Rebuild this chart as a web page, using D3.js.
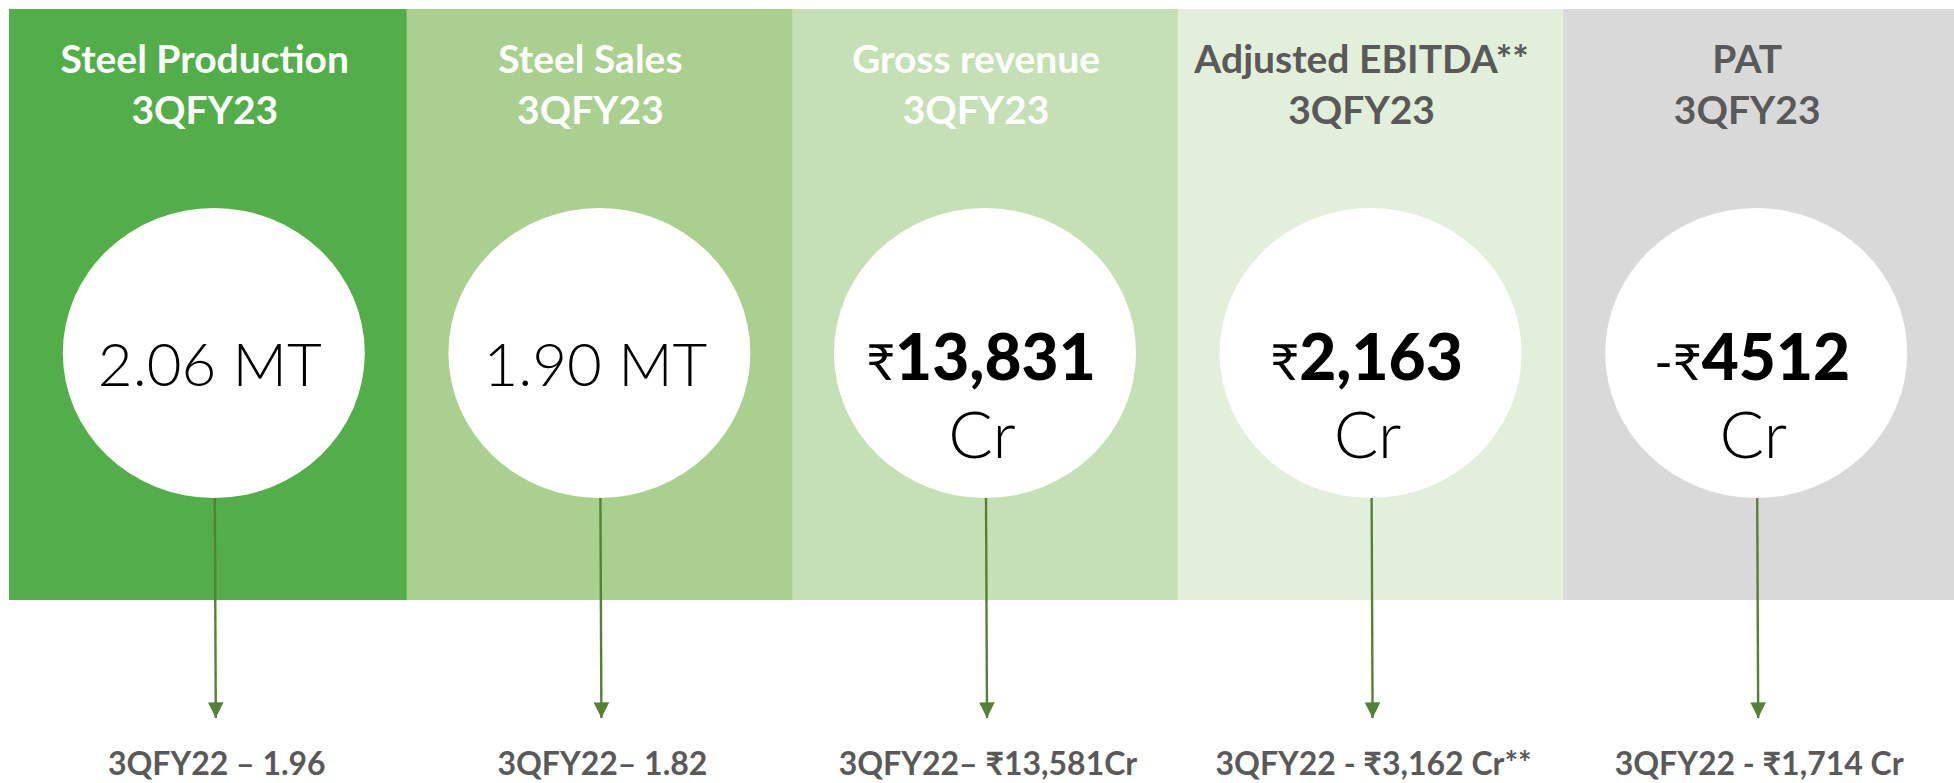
<!DOCTYPE html>
<html>
<head>
<meta charset="utf-8">
<script src="https://cdn.jsdelivr.net/npm/d3@7"></script>
<style>
  body { margin: 0; background: #fff; }
  svg { display: block; }
</style>
</head>
<body>
<div id="chart"></div>
<script>
// headline KPIs, 3QFY23 vs 3QFY22
const metrics = ["Steel Production", "Steel Sales", "Gross revenue", "Adjusted EBITDA**", "PAT"];
const period = "3QFY23";
const valuePrefix = ["", "", "₹", "₹", "-₹"];
const valueMain = ["2.06 MT", "1.90 MT", "13,831", "2,163", "4512"];
const valueUnit = ["", "", "Cr", "Cr", "Cr"];
const priorLabels = ["3QFY22 – 1.96", "3QFY22– 1.82", "3QFY22– ₹13,581Cr", "3QFY22 - ₹3,162 Cr**", "3QFY22 - ₹1,714 Cr"];

const panelColors = ["#52ae48", "#a9d08e", "#c5e0b4", "#e2efda", "#d9d9d9"];
const titleColors = ["#ffffff", "#ffffff", "#ffffff", "#595959", "#595959"];

const w = 1954;
const h = 783;
const panelTop = 9;
const panelBottom = 600;
const left = 9;

const rows = metrics.map((m, i) => ({
    metric: m,
    prefix: valuePrefix[i],
    main: valueMain[i],
    unit: valueUnit[i],
    prior: priorLabels[i],
    i: i
}));

const x = d3.scaleBand()
    .domain(metrics)
    .range([21, 1949]);

const fill = d3.scaleOrdinal().domain(metrics).range(panelColors);
const titleFill = d3.scaleOrdinal().domain(metrics).range(titleColors);

const cx = d => x(d.metric) + x.bandwidth() / 2;
// first panel reaches the left margin, last one runs to the page edge
const panelX0 = d => d.i === 0 ? left : x(d.metric);
const panelX1 = d => d.i === metrics.length - 1 ? w : x(d.metric) + x.bandwidth();

const svg = d3.select("#chart")
    .append("svg")
    .attr("width", w)
    .attr("height", h);

svg.append("defs").append("marker")
    .attr("id", "arrow")
    .attr("viewBox", "0 0 10 10")
    .attr("refX", 10)
    .attr("refY", 5)
    .attr("markerWidth", 6.5)
    .attr("markerHeight", 6.5)
    .attr("markerUnits", "strokeWidth")
    .attr("orient", "auto")
    .append("path")
    .attr("d", "M0,0 L10,5 L0,10 Z")
    .attr("fill", "#548235");

// coloured panels
svg.selectAll("rect.panel")
    .data(rows)
    .enter()
    .append("rect")
    .attr("class", "panel")
    .attr("x", d => panelX0(d))
    .attr("y", panelTop)
    .attr("width", d => panelX1(d) - panelX0(d) + 1)
    .attr("height", panelBottom - panelTop)
    .attr("fill", d => fill(d.metric));

// titles
const titles = svg.selectAll("text.title")
    .data(rows)
    .enter()
    .append("text")
    .attr("class", "title")
    .attr("text-anchor", "middle")
    .attr("font-family", "Lato, 'Open Sans', sans-serif")
    .attr("font-weight", "bold")
    .attr("font-size", 39)
    .attr("fill", d => titleFill(d.metric));

titles.append("tspan")
    .attr("x", d => cx(d) - 9)
    .attr("y", 73)
    .text(d => d.metric);

titles.append("tspan")
    .attr("x", d => cx(d) - 9)
    .attr("y", 124)
    .text(period);

// arrows from circle to prior-year label
svg.selectAll("line.arrow")
    .data(rows)
    .enter()
    .append("line")
    .attr("class", "arrow")
    .attr("x1", d => cx(d) + 1)
    .attr("y1", 495)
    .attr("x2", d => cx(d) + 2)
    .attr("y2", 718)
    .attr("stroke", "#548235")
    .attr("stroke-width", 2.4)
    .attr("marker-end", "url(#arrow)");

// white circles
svg.selectAll("ellipse.bubble")
    .data(rows)
    .enter()
    .append("ellipse")
    .attr("class", "bubble")
    .attr("cx", d => cx(d))
    .attr("cy", 353)
    .attr("rx", 151)
    .attr("ry", 145)
    .attr("fill", "#ffffff");

// values inside circles
const vals = svg.selectAll("text.value")
    .data(rows)
    .enter()
    .append("text")
    .attr("class", "value")
    .attr("text-anchor", "middle")
    .attr("font-family", "Lato, 'Noto Sans', sans-serif")
    .attr("fill", "#000");

vals.filter(d => d.unit === "")
    .attr("x", d => cx(d) - 4)
    .attr("y", 386)
    .attr("font-size", 60)
    .attr("font-weight", 300)
    .text(d => d.main);

const money = vals.filter(d => d.unit !== "");
money.attr("x", d => cx(d) - 4).attr("y", 380);
money.append("tspan")
    .attr("font-size", 50)
    .attr("font-weight", 400)
    .text(d => d.prefix);
money.append("tspan")
    .attr("font-size", 64)
    .attr("font-weight", 900)
    .text(d => d.main);

svg.selectAll("text.unit")
    .data(rows.filter(d => d.unit !== ""))
    .enter()
    .append("text")
    .attr("class", "unit")
    .attr("text-anchor", "middle")
    .attr("x", d => cx(d) - 3)
    .attr("y", 458)
    .attr("font-family", "Lato, sans-serif")
    .attr("font-weight", 300)
    .attr("font-size", 66)
    .attr("fill", "#000")
    .text(d => d.unit);

// prior-year labels
svg.selectAll("text.prior")
    .data(rows)
    .enter()
    .append("text")
    .attr("class", "prior")
    .attr("text-anchor", "middle")
    .attr("x", d => cx(d) + 3)
    .attr("y", 775)
    .attr("font-family", "Lato, 'Noto Sans', sans-serif")
    .attr("font-weight", "bold")
    .attr("font-size", 32)
    .attr("fill", "#595959")
    .text(d => d.prior);
</script>
</body>
</html>
